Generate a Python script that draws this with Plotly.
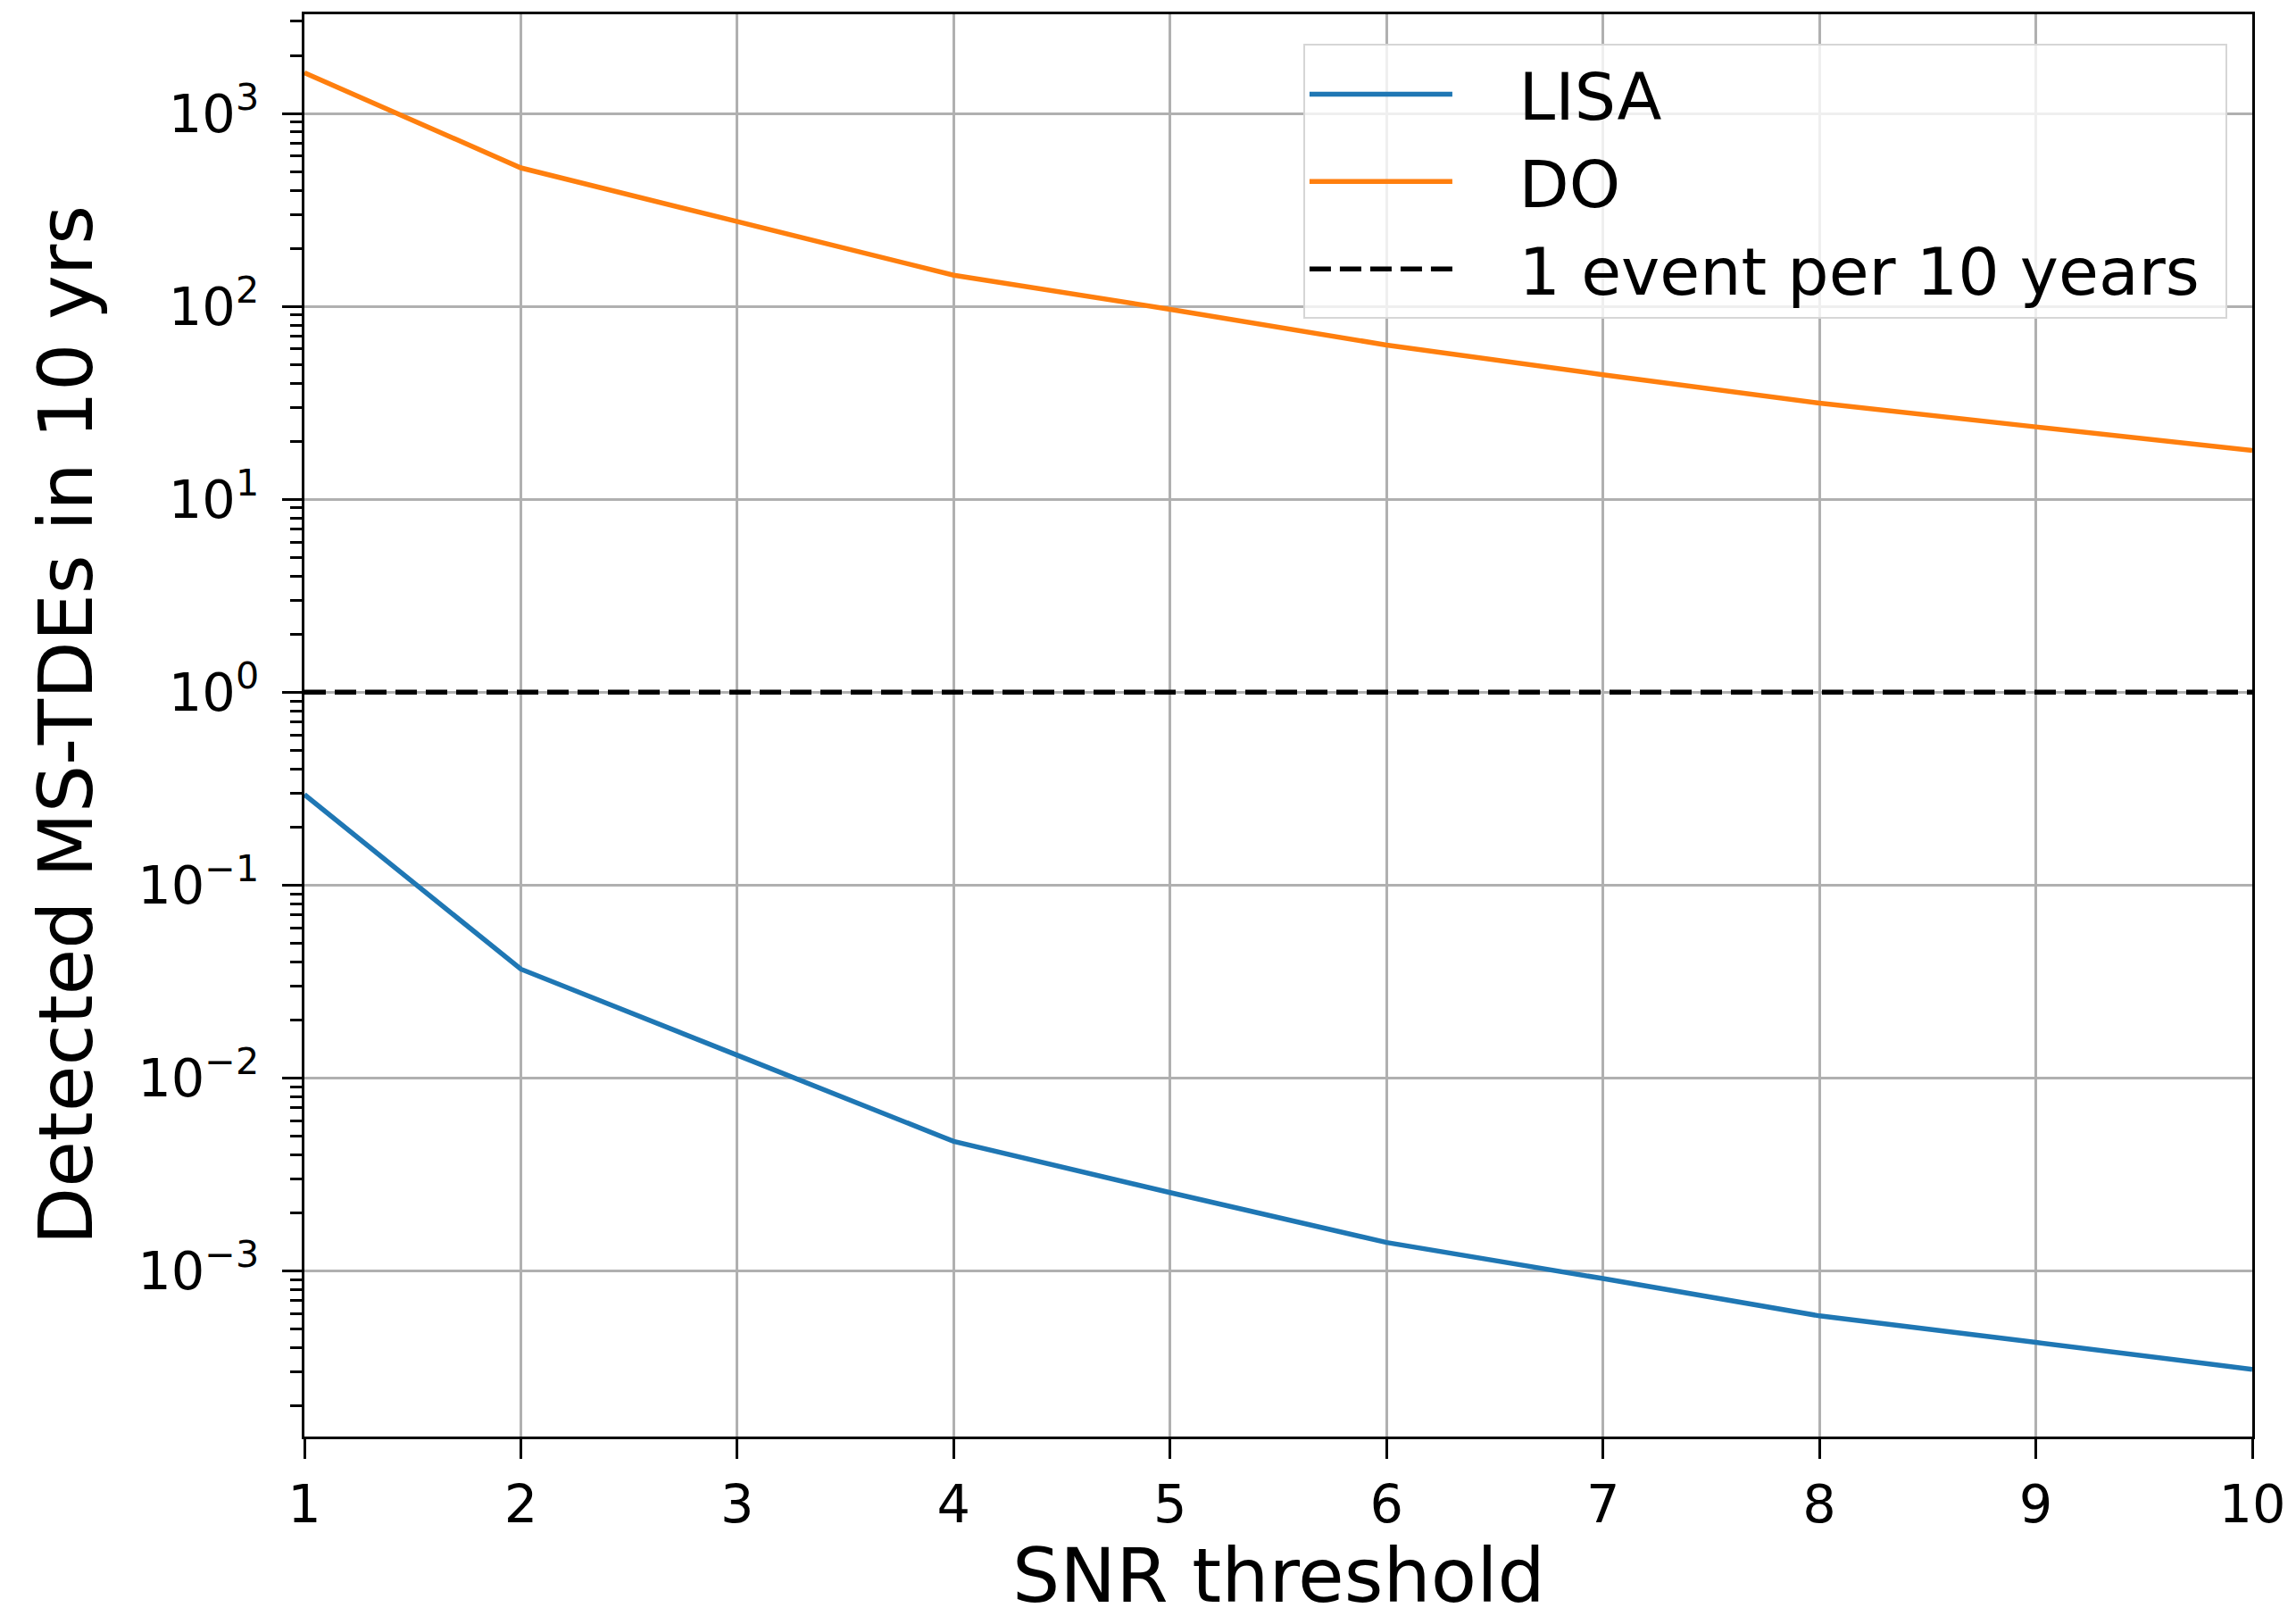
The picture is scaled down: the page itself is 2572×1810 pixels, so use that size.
import plotly.graph_objects as go

# ---- data ----
snr_threshold = [1, 2, 3, 4, 5, 6, 7, 8, 9, 10]
lisa_detected = [0.294, 0.0366, 0.0131, 0.00468, 0.00254, 0.00140, 0.00091, 0.000583, 0.000425, 0.000308]
do_detected = [1626, 522, 275, 145, 96.5, 63, 44.2, 31.5, 23.7, 17.9]
threshold_value = 1.0

series_names = ["LISA", "DO", "1 event per 10 years"]
x_ticks = [1, 2, 3, 4, 5, 6, 7, 8, 9, 10]
x_ticktext = ["1", "2", "3", "4", "5", "6", "7", "8", "9", "10"]
y_tickvals = [1e-3, 1e-2, 1e-1, 1e0, 1e1, 1e2, 1e3]
y_ticktext = ["10<sup>−3</sup>", "10<sup>−2</sup>", "10<sup>−1</sup>", "10<sup>0</sup>",
              "10<sup>1</sup>", "10<sup>2</sup>", "10<sup>3</sup>"]
x_title = "SNR threshold"
y_title = "Detected MS-TDEs in 10 yrs"

FONT = "DejaVu Sans"
PAD = "\u00a0\u00a0\u00a0"  # gap between legend handle and label

fig = go.Figure()
fig.add_trace(go.Scatter(x=snr_threshold, y=lisa_detected, mode="lines", name=PAD + series_names[0],
                         line=dict(color="#1f77b4", width=5.5)))
fig.add_trace(go.Scatter(x=snr_threshold, y=do_detected, mode="lines", name=PAD + series_names[1],
                         line=dict(color="#ff7f0e", width=5.5)))
fig.add_trace(go.Scatter(x=[snr_threshold[0], snr_threshold[-1]], y=[threshold_value, threshold_value],
                         mode="lines", name=PAD + series_names[2] + "\u00a0",
                         line=dict(color="black", width=5.5, dash="24px,10px")))

fig.update_layout(
    width=2572, height=1810,
    margin=dict(l=341, r=49, t=16, b=201, autoexpand=False),
    paper_bgcolor="white", plot_bgcolor="white",
    font=dict(family=FONT, color="black", size=59),
    showlegend=True,
    legend=dict(
        x=0.5128, y=0.979, xanchor="left", yanchor="top",
        bgcolor="rgba(255,255,255,0.8)", bordercolor="#d6d6d6", borderwidth=2,
        font=dict(family=FONT, size=73, color="black"),
        itemwidth=160, tracegroupgap=0,
    ),
    annotations=[
        dict(text=x_title, xref="paper", yref="paper", x=0.5, y=-0.0979, xanchor="center", yanchor="middle",
             height=84, valign="middle",
             showarrow=False, font=dict(family=FONT, size=84, color="black")),
        dict(text=y_title, xref="paper", yref="paper", x=0, y=0.5, xanchor="center", yanchor="middle",
             xshift=-268, textangle=-90, showarrow=False, font=dict(family=FONT, size=84, color="black")),
    ],
)

fig.update_xaxes(
    range=[1, 10], tickmode="array", tickvals=x_ticks, ticktext=x_ticktext,
    showline=True, linecolor="black", linewidth=3, mirror=True,
    ticks="outside", ticklen=22, tickwidth=3, tickcolor="black",
    showgrid=True, gridcolor="#b0b0b0", gridwidth=2.5, zeroline=False,
    tickfont=dict(family=FONT, size=59, color="black"),
    automargin=False,
)
fig.update_yaxes(
    type="log", range=[-3.86, 3.514], tickmode="array", tickvals=y_tickvals, ticktext=y_ticktext,
    showline=True, linecolor="black", linewidth=3, mirror=True,
    ticks="outside", ticklen=22, tickwidth=3, tickcolor="black",
    showgrid=True, gridcolor="#b0b0b0", gridwidth=2.5, zeroline=False,
    tickfont=dict(family=FONT, size=59, color="black"),
    ticklabelstandoff=14,
    minor=dict(ticks="outside", ticklen=13, tickwidth=2.5, tickcolor="black", dtick="D1", showgrid=False),
    automargin=False,
)

fig.write_html("out.html")
